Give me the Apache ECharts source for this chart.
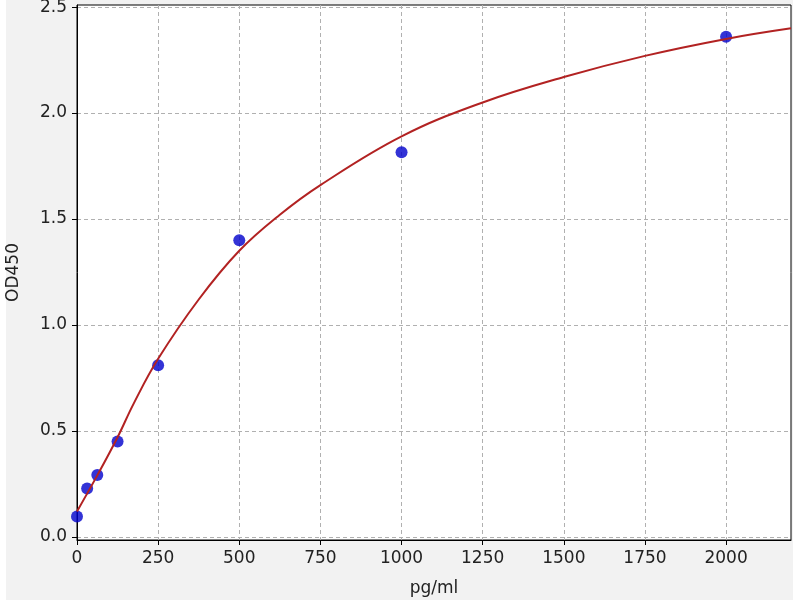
<!DOCTYPE html>
<html>
<head>
<meta charset="utf-8">
<script src="https://cdn.jsdelivr.net/npm/echarts@6/dist/echarts.min.js"></script>
<style>
    html, body { margin: 0; padding: 0; background: #ffffff; }
    #bg { position: absolute; left: 6px; top: 0; width: 787px; height: 600px; background: #f2f2f2; }
    #main { position: absolute; left: 0; top: 0; width: 800px; height: 600px; }
</style>
</head>
<body>
<div id="bg"></div>
<div id="main"></div>
<script>
// standard points (concentration, OD)
var conc = [0, 31.25, 62.5, 125, 250, 500, 1000, 2000];
var od = [0.096, 0.228, 0.292, 0.45, 0.81, 1.40, 1.815, 2.36];

// fitted curve
var curveX = [0, 62.5, 125, 175, 250, 375, 500, 625, 750, 1000, 1250, 1500, 1750, 2000, 2200];
var curveY = [0.12, 0.29, 0.47, 0.63, 0.84, 1.12, 1.35, 1.52, 1.66, 1.89, 2.05, 2.17, 2.27, 2.35, 2.40];

// tick positions
var xTicks = [0, 250, 500, 750, 1000, 1250, 1500, 1750, 2000];
var yTicks = [0, 0.5, 1.0, 1.5, 2.0, 2.5];

var myChart = echarts.init(document.getElementById('main'));

var pts = conc.map(function (c, i) { return [c, od[i]]; });
var fit = curveX.map(function (c, i) { return [c, curveY[i]]; });

var font = 'DejaVu Sans';

option = {
    backgroundColor: 'transparent',
    animation: false,
    grid: {
        left: 77, right: 9, top: 5, bottom: 60,
        show: true,
        backgroundColor: '#ffffff',
        borderColor: '#000000',
        borderWidth: 1,
        outerBoundsMode: 'none'
    },
    xAxis: {
        type: 'value',
        min: 0,
        max: 2200,
        name: 'pg/ml',
        nameLocation: 'middle',
        nameGap: 40,
        nameTextStyle: { fontFamily: font, fontSize: 17, color: '#222' },
        axisLine: { show: true, onZero: false, lineStyle: { color: '#000' } },
        axisTick: { show: true, length: 5, customValues: xTicks, lineStyle: { color: '#000' } },
        axisLabel: {
            fontFamily: font, fontSize: 17, color: '#222', margin: 10,
            customValues: xTicks,
            formatter: function (v) { return String(v); }
        },
        splitLine: { show: true, lineStyle: { color: '#b0b0b0', type: [4, 3] } }
    },
    yAxis: {
        type: 'value',
        min: -0.015,
        max: 2.51,
        name: 'OD450',
        nameLocation: 'middle',
        nameGap: 55,
        nameTextStyle: { fontFamily: font, fontSize: 17, color: '#222' },
        axisLine: { show: true, onZero: false, lineStyle: { color: '#000' } },
        axisTick: { show: true, length: 5, customValues: yTicks, lineStyle: { color: '#000' } },
        axisLabel: {
            fontFamily: font, fontSize: 17, color: '#222', margin: 10,
            customValues: yTicks,
            formatter: function (v) { return v.toFixed(1); }
        },
        splitLine: { show: true, lineStyle: { color: '#b0b0b0', type: [4, 3] } }
    },
    series: [{
        name: 'std',
        type: 'scatter',
        data: pts,
        symbolSize: 12,
        clip: false,
        itemStyle: { color: '#0000cc' },
        z: 2
    }, {
        name: 'fit',
        type: 'line',
        data: fit,
        smooth: 0.4,
        showSymbol: false,
        lineStyle: { color: '#b22222', width: 2 },
        z: 3
    }]
};

myChart.setOption(option);
</script>
</body>
</html>
